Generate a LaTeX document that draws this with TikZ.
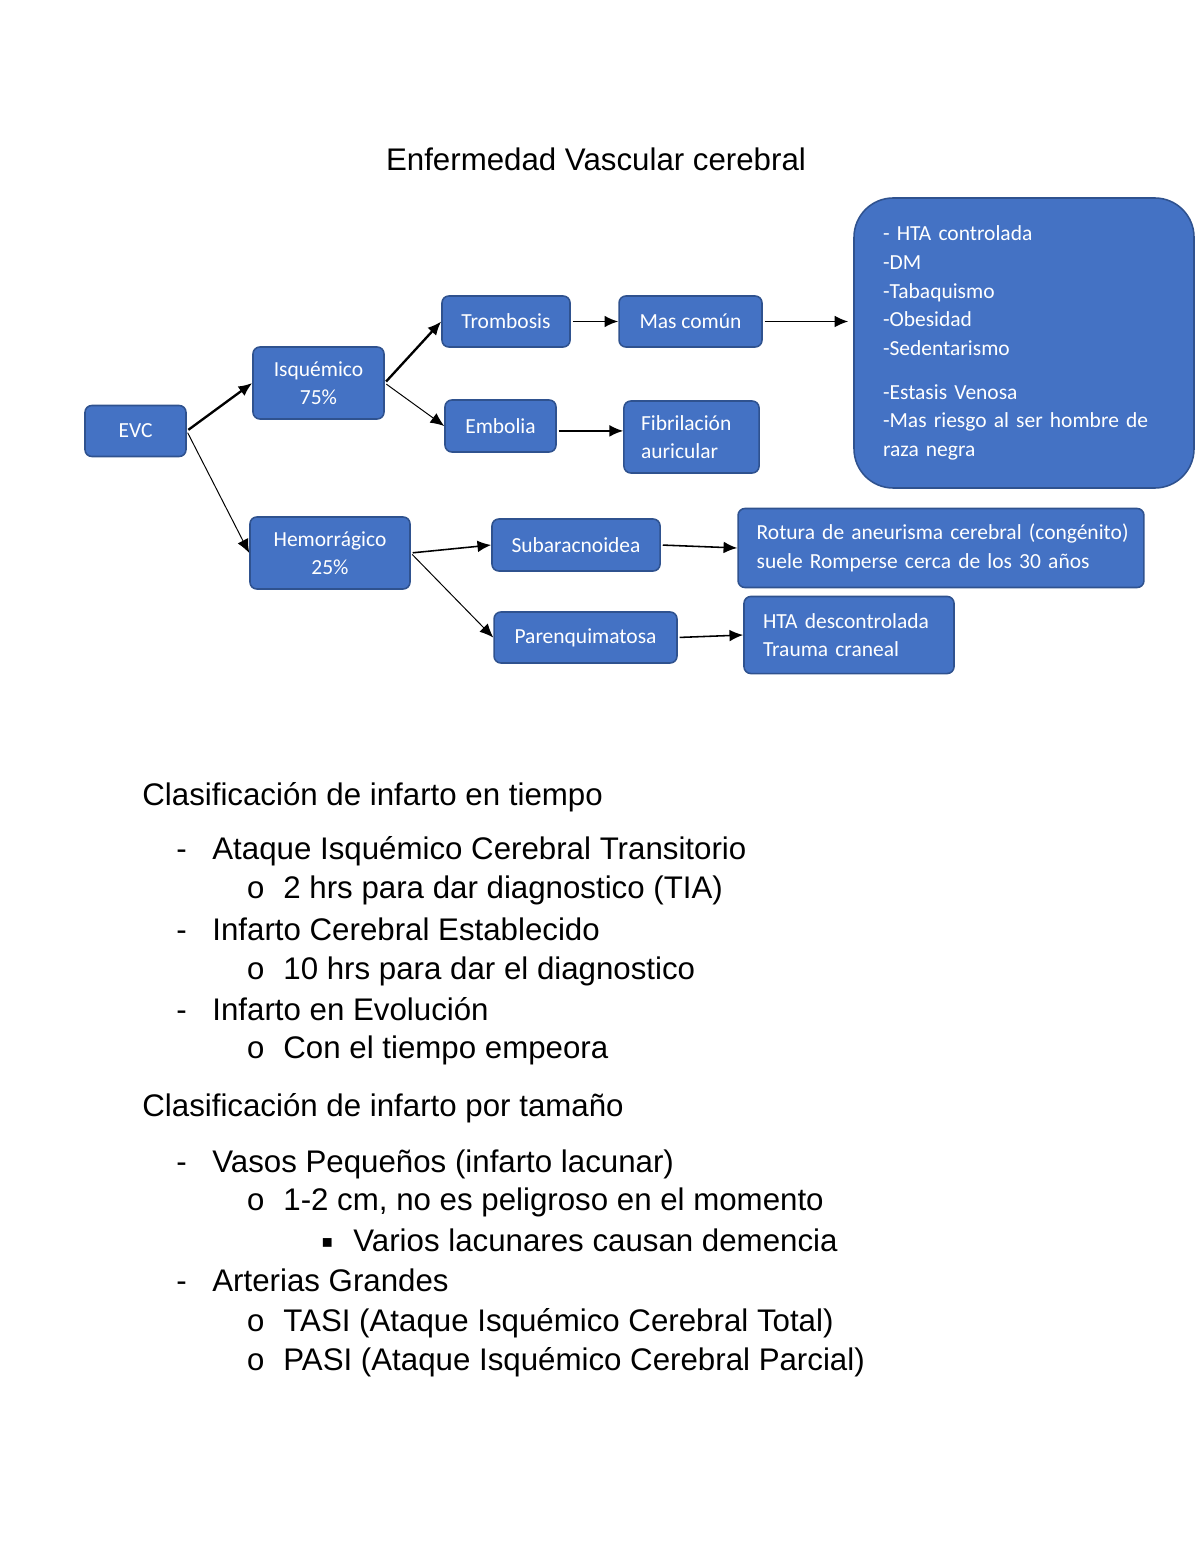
\documentclass[tikz,border=0pt]{standalone}
\usepackage{fontspec}
\setmainfont{Liberation Sans}
\newfontfamily\boxfont{Carlito}
\newfontfamily\bulfont{Liberation Mono}
\newfontfamily\sqfont{DejaVu Sans}
\usepackage{tikz}
\usetikzlibrary{arrows.meta,positioning,calc}
\definecolor{boxblue}{HTML}{4472C4}
\definecolor{boxedge}{HTML}{2F528F}

\begin{document}
\begin{tikzpicture}[x=0.51bp,y=-0.51bp]
	\tikzset{box/.style = {draw=boxedge,fill=boxblue,line width=0.8pt,rounded corners=3.5pt,
			text=white,align=center,inner sep=0pt,font=\boxfont\fontsize{11}{14.6}\selectfont}}
	\tikzset{lbox/.style = {box,align=left,inner ysep=0pt}}
	\tikzset{link/.style = {-{Latex[length=7bp,width=6bp]},line width=0.5pt,shorten <=1pt}}
	\tikzset{line/.style = {anchor=base west,inner sep=0pt,font=\fontsize{16}{19}\selectfont}}
	\tikzset{bul/.style = {line,font=\bulfont\fontsize{16}{19}\selectfont}}

	\useasboundingbox (0,0) rectangle (1200,1553);

	% title
	\node[line,anchor=base] (title) at (596,171) {Enfermedad Vascular cerebral};

	% boxes
	\node[box,minimum width=51.5bp,minimum height=26bp] (evc) at (135.5,431) {EVC};
	\node[box,minimum width=66.8bp,minimum height=36.7bp] (isq) at (318.5,383) {Isquémico\\75\%};
	\node[box,minimum width=81.6bp,minimum height=36.7bp] (hem) at (330,553) {Hemorrágico\\25\%};
	\node[box,minimum width=65.3bp,minimum height=26bp] (tromb) at (506,321.5) {Trombosis};
	\node[box,minimum width=56.6bp,minimum height=26.5bp] (emb) at (500.5,426) {Embolia};
	\node[box,minimum width=72.9bp,minimum height=26bp] (mas) at (690.5,321.5) {Mas común};
	\node[lbox,text width=51.5bp,inner xsep=8.7bp,minimum height=36.7bp] (fib) at (691.5,437)
		{Fibrilación\\auricular};
	\node[lbox,text width=143.8bp,inner xsep=14.8bp,minimum height=147.9bp,rounded corners=20bp]
		(risk) at (1024,343)
		{- HTA controlada\\-DM\\-Tabaquismo\\-Obesidad\\-Sedentarismo\\[8pt]-Estasis Venosa\\
		\mbox{-Mas riesgo al ser hombre de}\\raza negra};
	\node[box,minimum width=85.7bp,minimum height=26.5bp] (sub) at (576,545) {Subaracnoidea};
	\node[box,minimum width=93.3bp,minimum height=26bp] (par) at (585.5,637.5) {Parenquimatosa};
	\node[lbox,text width=188bp,inner xsep=9.5bp,minimum height=40.3bp] (rot) at (941,548)
		{\mbox{Rotura de aneurisma cerebral (congénito)}\\\mbox{suele Romperse cerca de los 30 años}};
	\node[lbox,text width=87.7bp,inner xsep=9.7bp,minimum height=39.3bp] (hta) at (849,635)
		{\mbox{HTA descontrolada}\\Trauma craneal};

	%edges
	\draw[link,line width=1.2pt] (evc.east) -- (isq.west);
	\draw[link] (evc.east) -- (hem.west);
	\draw[link,line width=1.2pt] (isq.east) -- (tromb.west);
	\draw[link] (isq.east) -- (emb.west);
	\draw[link,line width=0.9pt] (tromb.east) -- (mas.west);
	\draw[link,line width=0.8pt,shorten >=2.5bp] (mas.east) -- (mas.east -| risk.west);
	\draw[link,line width=0.8pt] ([yshift=-2.5bp]emb.east) -- ([yshift=-2.5bp]emb.east -| fib.west);
	\draw[link,line width=0.8pt] (hem.east) -- (sub.west);
	\draw[link] (hem.east) -- (par.west);
	\draw[link,line width=0.8pt] (sub.east) -- (rot.west);
	\draw[link,line width=0.8pt] (par.east) -- (hta.west);

	% lists
	\node[line] (tiempo) at (142,805) {Clasificación de infarto en tiempo};
	\node[line] (d1) at (176,859) {-};
	\node[line] (ait) at (212,859) {Ataque Isquémico Cerebral Transitorio};
	\node[bul] (o1) at (246,898) {o};
	\node[line] (ait2) at (283,898) {2 hrs para dar diagnostico (TIA)};
	\node[line] (d2) at (176,940) {-};
	\node[line] (ice) at (212,940) {Infarto Cerebral Establecido};
	\node[bul] (o2) at (246,979) {o};
	\node[line] (ice2) at (283,979) {10 hrs para dar el diagnostico};
	\node[line] (d3) at (176,1020) {-};
	\node[line] (ie) at (212,1020) {Infarto en Evolución};
	\node[bul] (o3) at (246,1058) {o};
	\node[line] (ie2) at (283,1058) {Con el tiempo empeora};

	\node[line] (tamano) at (142,1116) {Clasificación de infarto por tamaño};
	\node[line] (d4) at (176,1172) {-};
	\node[line] (vp) at (212,1172) {Vasos Pequeños (infarto lacunar)};
	\node[bul] (o4) at (246,1210) {o};
	\node[line] (vp2) at (283,1210) {1-2 cm, no es peligroso en el momento};
	\node[line,font=\sqfont\fontsize{9}{11}\selectfont] (s1) at (321,1247) {▪};
	\node[line] (vp3) at (353,1251) {Varios lacunares causan demencia};
	\node[line] (d5) at (176,1291) {-};
	\node[line] (ag) at (212,1291) {Arterias Grandes};
	\node[bul] (o5) at (246,1331) {o};
	\node[line] (tasi) at (283,1331) {TASI (Ataque Isquémico Cerebral Total)};
	\node[bul] (o6) at (246,1370) {o};
	\node[line] (pasi) at (283,1370) {PASI (Ataque Isquémico Cerebral Parcial)};
\end{tikzpicture}
\end{document}
